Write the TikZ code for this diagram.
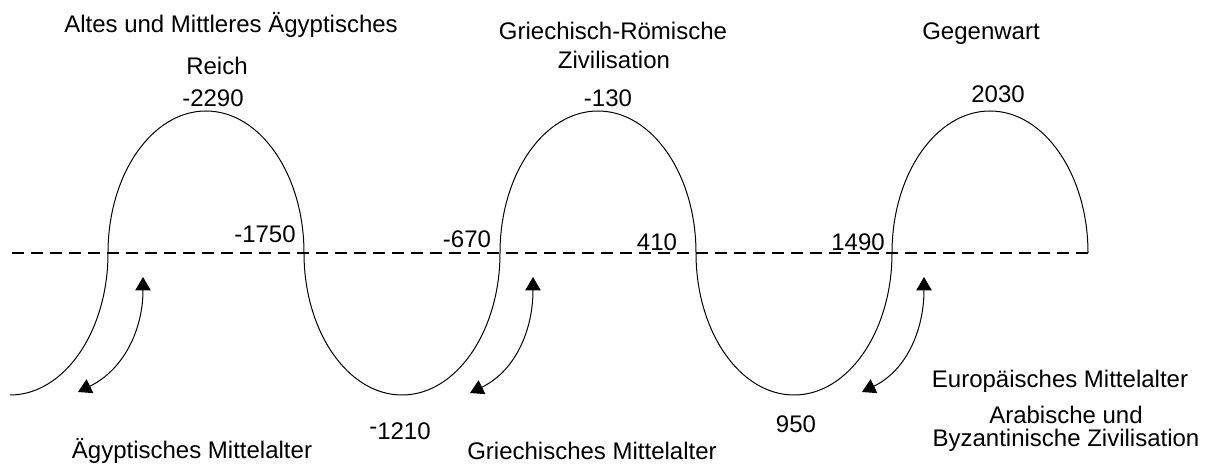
\documentclass[tikz,border=0pt]{standalone}
\usepackage{fontspec}
\setmainfont{Liberation Sans}
\usetikzlibrary{arrows.meta}
\tikzset{
    eralabel/.style={anchor=base, inner sep=0pt, font=\fontsize{18}{21.6}\selectfont},
    yearlabel/.style={anchor=base, inner sep=0pt, font=\fontsize{18}{21.6}\selectfont},
    waveline/.style={line width=0.75pt},
    zeroline/.style={line width=2.2pt, dash pattern=on 9pt off 5.25pt},
    cyclearrow/.style={{Triangle[length=10pt,width=11.5pt]}-{Triangle[length=10pt,width=11.5pt]}, line width=0.75pt},
    halfwave/.style={x radius=73.5pt, y radius=106.5pt}
}

\begin{document}
\begin{tikzpicture}[x=0.75pt, y=0.75pt]
    \useasboundingbox (0,-213) rectangle (1210,253);
    % zero line and wave
    \coordinate (linestart) at (12,0);
    \coordinate (lineend) at (1088,0);
    \draw[zeroline] (linestart) -- (lineend);
    \coordinate (wavestart) at (10,-142);
    \draw[waveline] (wavestart)
        arc[halfwave, start angle=-90, end angle=0]
        arc[halfwave, start angle=180, end angle=0]
        arc[halfwave, start angle=180, end angle=360]
        arc[halfwave, start angle=180, end angle=0]
        arc[halfwave, start angle=180, end angle=360]
        arc[halfwave, start angle=180, end angle=0];

    % era labels
    \node[eralabel] (altreich1) at (231,220) {Altes und Mittleres Ägyptisches};
    \node[eralabel] (altreich2) at (217,178) {Reich};
    \node[eralabel] (grroem1) at (613,213) {Griechisch-Römische};
    \node[eralabel] (grroem2) at (614,184) {Zivilisation};
    \node[eralabel] (gegenwart) at (981,213) {Gegenwart};
    \node[eralabel] (aegmittel) at (192,-206) {Ägyptisches Mittelalter};
    \node[eralabel] (grmittel) at (592,-207) {Griechisches Mittelalter};
    \node[eralabel] (eumittel) at (1060,-135) {Europäisches Mittelalter};
    \node[eralabel] (arabbyz1) at (1066,-171) {Arabische und};
    \node[eralabel] (arabbyz2) at (1066,-194) {Byzantinische Zivilisation};

    % years
    \node[yearlabel] (y2290) at (213,146) {-2290};
    \node[yearlabel] (y130) at (608,146) {-130};
    \node[yearlabel] (y2030) at (998,150) {2030};
    \node[yearlabel] (y1750) at (265,10) {-1750};
    \node[yearlabel] (y670) at (467,5) {-670};
    \node[yearlabel] (y410) at (657,2) {410};
    \node[yearlabel] (y1490) at (858,2) {1490};
    \node[yearlabel] (y1210) at (400,-187) {\raisebox{.4ex}{-}1210};
    \node[yearlabel] (y950) at (796,-180) {950};

    % transitions
    \coordinate (aegtop) at (143,-24);
    \coordinate (aegbot) at (78,-139);
    \coordinate (grtop) at (533,-24);
    \coordinate (grbot) at (470,-140);
    \coordinate (eutop) at (924,-24);
    \coordinate (eubot) at (862,-139);
    \draw[cyclearrow] (aegbot) to[out=26, in=-90] (aegtop);
    \draw[cyclearrow] (grbot) to[out=26, in=-90] (grtop);
    \draw[cyclearrow] (eubot) to[out=26, in=-90] (eutop);
\end{tikzpicture}
\end{document}
